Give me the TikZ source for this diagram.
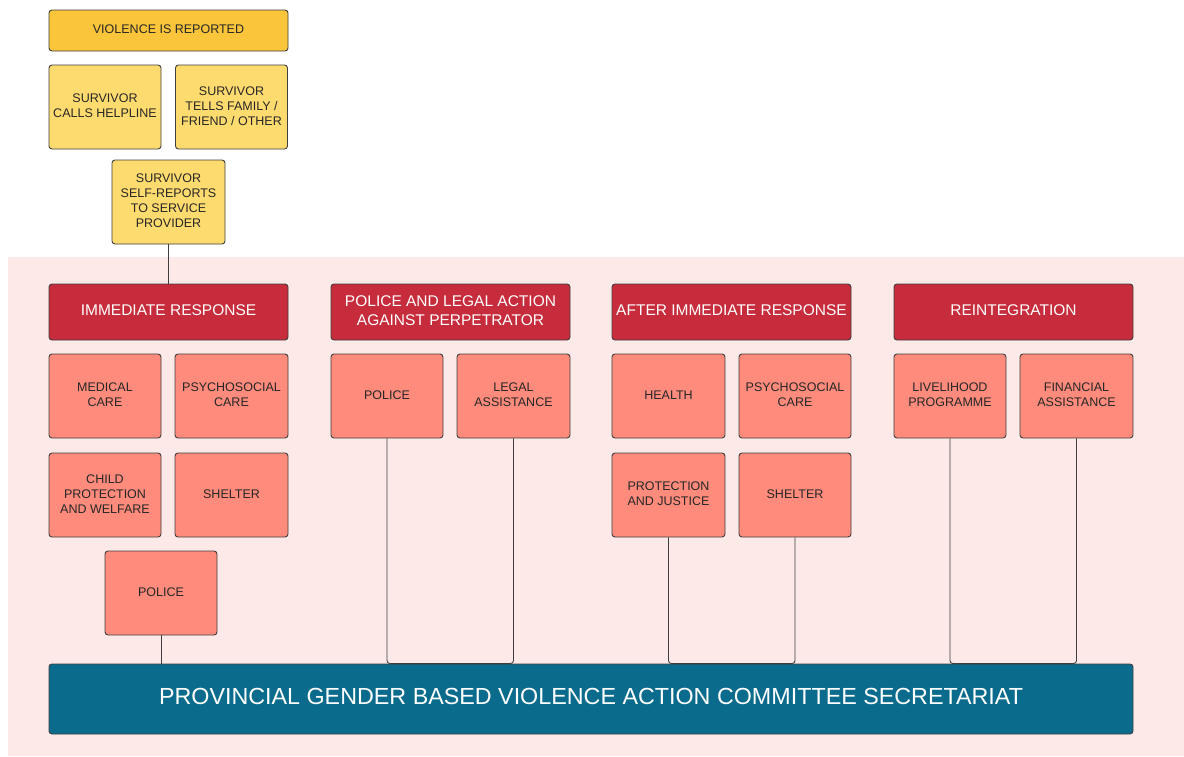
\documentclass[tikz,border=0pt]{standalone}
\usepackage{fontspec}
\setmainfont{Liberation Sans}
\definecolor{bgpink}{HTML}{FDE9E8}
\definecolor{topyel}{HTML}{FAC53A}
\definecolor{lightyel}{HTML}{FEDB6F}
\definecolor{hdrred}{HTML}{C62C3B}
\definecolor{salmon}{HTML}{FE8B7B}
\definecolor{teal}{HTML}{0B6B8C}
\definecolor{edge}{HTML}{3F3F3F}
\newcommand\tx[1]{\begin{tabular}{@{}c@{}}#1\end{tabular}}
\newcommand\stx[1]{\raisebox{1pt}{\tx{#1}}}
\tikzset{
  box/.style={draw=edge, line width=0.9pt, rounded corners=3pt, inner sep=0pt, text=black!85},
  ybox/.style={box, fill=lightyel, minimum width=112pt, minimum height=84pt, font=\fontsize{12.5}{15}\selectfont},
  sbox/.style={box, fill=salmon, minimum width=112pt, minimum height=84pt, font=\fontsize{12.5}{15}\selectfont},
  hdr/.style={box, fill=hdrred, text=white, minimum width=239pt, minimum height=56pt, font=\fontsize{15.5}{19}\selectfont},
  conn/.style={draw=edge, line width=0.9pt, rounded corners=3pt},
}
\begin{document}
\begin{tikzpicture}[x=1pt,y=-1pt]
\useasboundingbox (0,0) rectangle (1184,756);
\fill[bgpink] (8,257) rectangle (1184,756);
% top
\node[box, fill=topyel, minimum width=239pt, minimum height=41pt, font=\fontsize{12.5}{15}\selectfont] (rep) at (168.5,30.5) {\stx{VIOLENCE IS REPORTED}};
\node[ybox] (help) at (105,107) {\stx{SURVIVOR\\CALLS HELPLINE}};
\node[ybox] (fam) at (231.5,107) {\stx{SURVIVOR\\TELLS FAMILY /\\FRIEND / OTHER}};
\node[ybox, minimum width=113pt] (self) at (168.5,202) {\stx{SURVIVOR\\SELF-REPORTS\\TO SERVICE\\PROVIDER}};
% headers
\node[hdr] (h1) at (168.5,312) {\tx{IMMEDIATE RESPONSE}};
\node[hdr] (h2) at (450.5,312) {\tx{POLICE AND LEGAL ACTION\\AGAINST PERPETRATOR}};
\node[hdr] (h3) at (731.5,312) {\tx{AFTER IMMEDIATE RESPONSE}};
\node[hdr] (h4) at (1013.5,312) {\tx{REINTEGRATION}};
% column 1
\node[sbox] (med) at (105,396) {\stx{MEDICAL\\CARE}};
\node[sbox, minimum width=113pt] (psy1) at (231.5,396) {\stx{PSYCHOSOCIAL\\CARE}};
\node[sbox] (child) at (105,495) {\stx{CHILD\\PROTECTION\\AND WELFARE}};
\node[sbox, minimum width=113pt] (shel1) at (231.5,495) {\stx{SHELTER}};
\node[sbox] (pol1) at (161,593) {\stx{POLICE}};
% column 2
\node[sbox] (pol2) at (387,396) {\stx{POLICE}};
\node[sbox, minimum width=113pt] (legal) at (513.5,396) {\stx{LEGAL\\ASSISTANCE}};
% column 3
\node[sbox, minimum width=113pt] (health) at (668.5,396) {\stx{HEALTH}};
\node[sbox] (psy3) at (795,396) {\stx{PSYCHOSOCIAL\\CARE}};
\node[sbox, minimum width=113pt] (prot) at (668.5,495) {\stx{PROTECTION\\AND JUSTICE}};
\node[sbox] (shel3) at (795,495) {\stx{SHELTER}};
% column 4
\node[sbox] (live) at (950,396) {\stx{LIVELIHOOD\\PROGRAMME}};
\node[sbox, minimum width=113pt] (fin) at (1076.5,396) {\stx{FINANCIAL\\ASSISTANCE}};
% bottom bar
\node[box, fill=teal, text=white, minimum width=1084pt, minimum height=70pt, font=\fontsize{23.3}{28}\selectfont] (sec) at (591,699) {\tx{PROVINCIAL GENDER BASED VIOLENCE ACTION COMMITTEE SECRETARIAT}};
% connectors
\draw[conn] (self.south) -- (h1.north);
\draw[conn] (pol1.south) -- (pol1.south |- sec.north);
\draw[conn] (pol2.south) -- (pol2.south |- sec.north) -- (legal.south |- sec.north) -- (legal.south);
\draw[conn] (prot.south) -- (prot.south |- sec.north) -- (shel3.south |- sec.north) -- (shel3.south);
\draw[conn] (live.south) -- (live.south |- sec.north) -- (fin.south |- sec.north) -- (fin.south);
\end{tikzpicture}
\end{document}
